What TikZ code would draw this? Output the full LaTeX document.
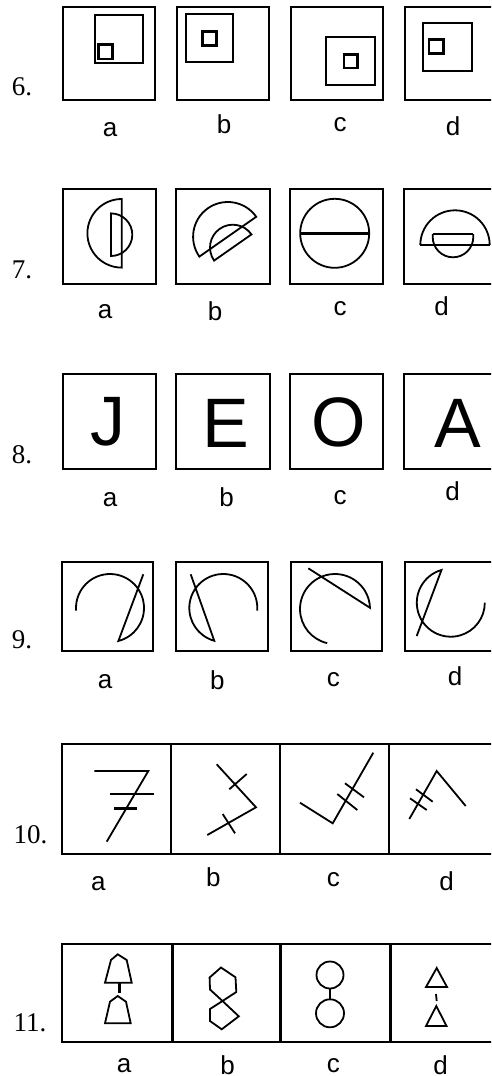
\documentclass[tikz,border=0pt]{standalone}
\usepackage{fontspec}
\usetikzlibrary{calc}
\setmainfont{Liberation Serif}
\newfontfamily\lsans{Liberation Sans}
\begin{document}
\begin{tikzpicture}[x=1pt,y=-1pt,
  box/.style={line width=2.2pt},
  fig/.style={line width=1.8pt},
  mid/.style={line width=2pt},
  heavy/.style={line width=2.8pt},
  num/.style={font=\fontsize{27}{27}\selectfont, anchor=base west, inner sep=0pt},
  lab/.style={font=\lsans\fontsize{26}{26}\selectfont, anchor=base, inner sep=0pt},
  bigl/.style={font=\lsans\fontsize{70}{70}\selectfont, anchor=base, inner sep=0pt}]
\useasboundingbox (0,0) rectangle (491,1076);
\clip (0,0) rectangle (491,1076);
\fill[white] (0,0) rectangle (491,1076);

% ---------- row 6 ----------
\node[num] (n6) at (11.7,95) {6.};
\draw[box] (62.7,7.3) rectangle (155.3,100);
\draw[box] (176.7,7.3) rectangle (269.3,100);
\draw[box] (290.7,7.3) rectangle (383.3,100);
\draw[box] (404.7,7.3) rectangle (497.3,100);
\draw[mid] (95,15) rectangle (143.3,63.3);
\draw[heavy] (98.3,44.3) rectangle (112.3,59);
\draw[mid] (185.7,14) rectangle (233.3,62.3);
\draw[heavy] (202.7,31.3) rectangle (216.7,45.3);
\draw[mid] (326,36.7) rectangle (375,85);
\draw[heavy] (344,54.3) rectangle (357.3,68);
\draw[mid] (423.3,22.7) rectangle (471.7,70.7);
\draw[heavy] (429,39.3) rectangle (443.3,53.3);
\node[lab] (l6a) at (110,136.7) {a};
\node[lab] (l6b) at (224,133.3) {b};
\node[lab] (l6c) at (340,131.7) {c};
\node[lab] (l6d) at (453,135) {d};

% ---------- row 7 ----------
\node[num] (n7) at (11.7,278.3) {7.};
\draw[box] (62.7,189.3) rectangle (156,284.3);
\draw[box] (176,189.3) rectangle (270,284.3);
\draw[box] (290,189.3) rectangle (383.3,284.3);
\draw[box] (404,189.3) rectangle (497,284.3);
% a
\draw[fig] (121.7,199) arc[start angle=270, end angle=90, radius=34.3] -- cycle;
\draw[fig] (111,213.4) arc[start angle=-90, end angle=90, radius=21.3] -- cycle;
% b
\coordinate (c7b) at (227.8,236.7);
\coordinate (s7b) at (232.8,247.5);
\draw[fig] (c7b) ++(-35:34.7) arc[start angle=-35, end angle=-215, radius=34.7] -- cycle;
\draw[fig] (s7b) ++(-35:22.8) arc[start angle=-35, end angle=-215, radius=22.8] -- cycle;
% c
\draw[fig] (334.7,233.3) circle[radius=34.5];
\draw[heavy] (300.2,233.3) -- (369.2,233.3);
% d
\draw[fig] (420.3,245) arc[start angle=180, end angle=360, radius=34.7];
\draw[heavy] (420.3,245) -- (489.7,245);
\draw[fig] (473.3,234) -- (473.3,237) arc[start angle=0, end angle=180, radius=20.3] -- (432.7,234);
\draw[heavy] (432.7,234) -- (473.3,234);
\node[lab] (l7a) at (105,318.3) {a};
\node[lab] (l7b) at (215,320) {b};
\node[lab] (l7c) at (340,315) {c};
\node[lab] (l7d) at (441.7,315) {d};

% ---------- row 8 ----------
\node[num] (n8) at (11.7,463.3) {8.};
\draw[box] (62.7,374) rectangle (156,469.3);
\draw[box] (176,374) rectangle (270,469.3);
\draw[box] (290,374) rectangle (383.3,469.3);
\draw[box] (404,374) rectangle (497,469.3);
\node[bigl] (J) at (108,445) {J};
\node[bigl] (E) at (226,447.3) {E};
\node[bigl] (O) at (338.3,446) {O};
\node[bigl] (A) at (458.3,447.3) {A};
\node[lab] (l8a) at (110,506) {a};
\node[lab] (l8b) at (226.7,506.7) {b};
\node[lab] (l8c) at (340,504) {c};
\node[lab] (l8d) at (452.7,500) {d};

% ---------- row 9 ----------
\node[num] (n9) at (11.7,648.3) {9.};
\draw[box] (61.7,561.7) rectangle (153.3,651);
\draw[box] (176,561.7) rectangle (267.7,651);
\draw[box] (290.7,561.7) rectangle (382.3,651);
\draw[box] (404.7,561.7) rectangle (496,651);
\coordinate (c9a) at (110,608);
\draw[fig] (c9a) ++(175.5:34) arc[start angle=175.5, end angle=435.7, radius=34] -- (143.3,574.3);
\coordinate (c9b) at (223.3,608);
\draw[fig] (c9b) ++(4.5:34) arc[start angle=4.5, end angle=-254.6, radius=34] -- (190.7,574.3);
\coordinate (c9c) at (335,609);
\draw[fig] (308.3,568.3) -- ($(c9c)+(-2:35)$) arc[start angle=-2, end angle=-257.1, radius=35];
\coordinate (c9d) at (450.8,602.7);
\draw[fig] (416.7,636) -- ($(c9d)+(-105.9:34)$) arc[start angle=-105.9, end angle=-360, radius=34];
\node[lab] (l9a) at (105,688.3) {a};
\node[lab] (l9b) at (217.3,689.3) {b};
\node[lab] (l9c) at (333.3,686.7) {c};
\node[lab] (l9d) at (455,685.7) {d};

% ---------- row 10 ----------
\node[num] (n10) at (13.3,843.3) {10.};
\draw[box] (61.7,744.3) rectangle (505,854.3);
\draw[box] (171,744.3) -- (171,854.3);
\draw[box] (280,744.3) -- (280,854.3);
\draw[box] (389.3,744.3) -- (389.3,854.3);
% a
\draw[fig] (94.3,771) -- (148.3,771) -- (106.7,841.7);
\draw[heavy] (110,794) -- (154.3,794);
\draw[heavy] (114.3,808.3) -- (136.7,808.3);
% b
\draw[fig] (216.7,764.3) -- (256,807.3) -- (207.3,835);
\draw[fig] (229.3,789.3) -- (246.7,774);
\draw[fig] (222.7,814) -- (235,833.3);
% c
\draw[fig] (300,802.7) -- (332.7,823.3) -- (373.3,752.7);
\draw[fig] (337.3,794) -- (357.3,810);
\draw[fig] (345,783.3) -- (364,797.3);
% d
\draw[fig] (409.3,819) -- (436.7,771) -- (465.7,806);
\draw[fig] (410,798.3) -- (426.7,810);
\draw[fig] (416,789.3) -- (432.7,801.7);
\node[lab] (l10a) at (98.3,890) {a};
\node[lab] (l10b) at (213.3,886) {b};
\node[lab] (l10c) at (333.3,886.7) {c};
\node[lab] (l10d) at (446.7,890) {d};

% ---------- row 11 ----------
\node[num] (n11) at (13.3,1031.7) {11.};
\draw[box] (62.3,944.3) rectangle (505,1042.3);
\draw[line width=3pt] (172,944.3) -- (172,1042.3);
\draw[line width=3pt] (280,944.3) -- (280,1042.3);
\draw[line width=3pt] (390,944.3) -- (390,1042.3);
% a
\draw[fig] (105,982.7) -- (111,960) -- (117.7,954.3) -- (126.7,960) -- (131.7,982.7) -- cycle;
\draw[heavy] (119.3,982.7) -- (119.3,992.5);
\draw[fig] (105,1023.3) -- (110,1001.7) -- (117.7,996) -- (126,1001.7) -- (130.7,1023.3) -- cycle;
% b
\draw[fig] (221,967.5) -- (235.5,977.3) -- (236.3,992) -- (222.5,1001) -- (210,989.5) -- (209.6,977.5) -- cycle;
\draw[fig] (222.5,1001) -- (210,1009) -- (210,1021) -- (221.7,1029.3) -- (238.8,1016.3) -- cycle;
% c
\draw[fig] (330,975) circle[radius=13.5];
\draw[fig] (330,1013.3) circle[radius=14];
\draw[heavy] (330,988.5) -- (330,999.3);
% d
\draw[fig] (426,987) -- (436.7,968) -- (447,987) -- cycle;
\draw[fig] (436,994) -- (436.7,1001);
\draw[fig] (426,1026) -- (436.3,1006) -- (446.5,1026) -- cycle;
\node[lab] (l11a) at (124,1072) {a};
\node[lab] (l11b) at (227.7,1074) {b};
\node[lab] (l11c) at (333.3,1072) {c};
\node[lab] (l11d) at (440.7,1074) {d};
\end{tikzpicture}
\end{document}
